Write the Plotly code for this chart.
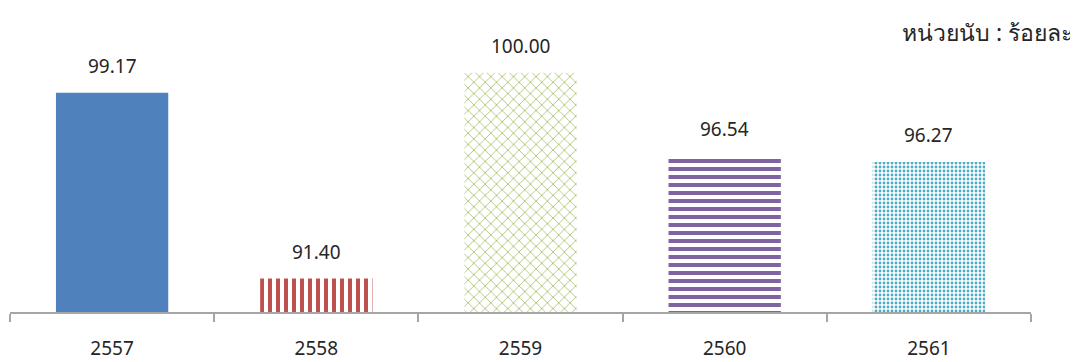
import plotly.graph_objects as go

years = ["2557", "2558", "2559", "2560", "2561"]
values = [99.17, 91.40, 100.00, 96.54, 96.27]
value_labels = ["99.17", "91.40", "100.00", "96.54", "96.27"]
unit_text = "หน่วยนับ : ร้อยละ"

colors = ["#4F81BD", "#C0504D", "#9BBB59", "#8064A2", "#4BACC6"]
shapes = ["", "|", "x", "-", "."]
sizes = [8, 8, 8, 8, 4]
solidity = [1.0, 0.5, 0.18, 0.5, 0.4]

font = "Noto Sans, DejaVu Sans, sans-serif"

fig = go.Figure()
for yr, val, col, shp, sz, sol in zip(years, values, colors, shapes, sizes, solidity):
    fig.add_trace(
        go.Bar(
            x=[yr],
            y=[val],
            width=0.55,
            marker=dict(
                color=col if shp == "" else "white",
                line=dict(width=0),
                pattern=dict(
                    shape=shp,
                    fgcolor=col,
                    bgcolor="white",
                    fgopacity=1,
                    size=sz,
                    solidity=sol,
                    fillmode="overlay",
                ),
            ),
            showlegend=False,
            hoverinfo="skip",
        )
    )

# value labels above the bars (category index used so numeric-looking names are not misread)
for i, (val, lab) in enumerate(zip(values, value_labels)):
    fig.add_annotation(
        x=i, y=val, text=lab, showarrow=False,
        yanchor="middle", yshift=27,
        font=dict(size=19, color="#262626", family=font),
    )

fig.add_annotation(
    xref="paper", yref="paper", x=1.043, y=1.018,
    xanchor="right", yanchor="middle",
    text=unit_text, showarrow=False,
    font=dict(size=23, color="#262626", family=font),
)

# page body has an 8px margin, so the figure is a bit smaller than the window
fig.update_layout(
    width=1070,
    height=354,
    margin=dict(l=2, r=47, t=29, b=50),
    paper_bgcolor="white",
    plot_bgcolor="white",
    font=dict(family=font, color="#262626"),
)
fig.update_xaxes(
    type="category",
    range=[-0.5, 4.5],
    showline=True,
    linecolor="#A6A6A6",
    linewidth=1.5,
    ticks="outside",
    tickson="boundaries",
    ticklen=8,
    tickcolor="#A6A6A6",
    tickwidth=1.5,
    showgrid=False,
    ticklabelstandoff=18,
    tickfont=dict(size=19, color="#262626", family=font),
)
fig.update_yaxes(
    range=[90, 101.5],
    visible=False,
    showgrid=False,
    zeroline=False,
)

fig.write_html("out.html")
